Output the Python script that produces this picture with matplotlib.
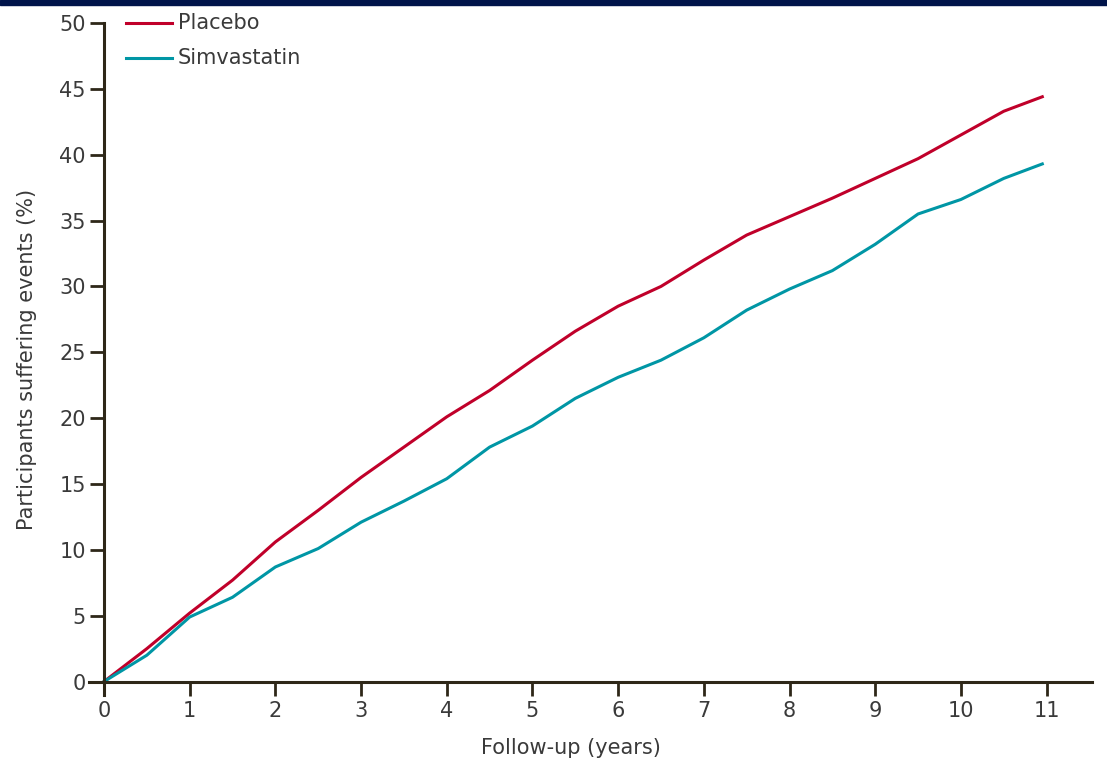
"""Cumulative events: placebo vs simvastatin."""

import matplotlib

matplotlib.use("Agg")
import matplotlib.pyplot as plt
from matplotlib.lines import Line2D
from matplotlib.patches import Rectangle

YEARS = [0, 0.5, 1, 1.5, 2, 2.5, 3, 3.5, 4, 4.5, 5, 5.5, 6, 6.5, 7, 7.5,
         8, 8.5, 9, 9.5, 10, 10.5, 10.95]
PLACEBO = [0, 2.5, 5.2, 7.7, 10.6, 13.0, 15.5, 17.8, 20.1, 22.1, 24.4, 26.6,
           28.5, 30.0, 32.0, 33.9, 35.3, 36.7, 38.2, 39.7, 41.5, 43.3, 44.4]
SIMVASTATIN = [0, 2.0, 4.9, 6.4, 8.7, 10.1, 12.1, 13.7, 15.4, 17.8, 19.4, 21.5,
               23.1, 24.4, 26.1, 28.2, 29.8, 31.2, 33.2, 35.5, 36.6, 38.2, 39.3]

X_TICKS = list(range(0, 12))
Y_TICKS = list(range(0, 51, 5))

COLORS = {"Placebo": "#c0002a", "Simvastatin": "#0096a5"}
AXIS_COLOR = "#2e2718"
TEXT_COLOR = "#3a3a3a"

W, H = 1107, 761

plt.rcParams["font.family"] = ["DejaVu Sans"]

fig = plt.figure(figsize=(W / 100, H / 100), dpi=100)
fig.patches.append(Rectangle((0, 1 - 5 / H), 1, 5 / H, transform=fig.transFigure,
                             color="#00144a", zorder=0))

ax = fig.add_axes([89 / W, 1 - 695 / H, 1003 / W, 672 / H])

ax.plot(YEARS, PLACEBO, color=COLORS["Placebo"], linewidth=2.2)
ax.plot(YEARS, SIMVASTATIN, color=COLORS["Simvastatin"], linewidth=2.2)

ax.set_xlim(-0.175, 11.53)
ax.set_ylim(-1.02, 50)
ax.set_xticks(X_TICKS)
ax.set_yticks(Y_TICKS)

for side in ("top", "right"):
    ax.spines[side].set_visible(False)
ax.spines["left"].set_position(("data", 0))
ax.spines["bottom"].set_position(("data", 0))
for side in ("left", "bottom"):
    ax.spines[side].set_color(AXIS_COLOR)
    ax.spines[side].set_linewidth(2.2)

ax.tick_params(axis="both", direction="out", length=10, width=2, color=AXIS_COLOR,
               labelcolor=TEXT_COLOR, labelsize=15)
ax.tick_params(axis="x", pad=4)
ax.tick_params(axis="y", pad=3)

ax.set_xlabel("Follow-up (years)", fontsize=15, color=TEXT_COLOR, va="center")
ax.xaxis.set_label_coords((571 - 89) / 1003, -(748 - 695) / 672)
ax.set_ylabel("Participants suffering events (%)", fontsize=15, color=TEXT_COLOR,
              va="center")
ax.yaxis.set_label_coords(-(89 - 27) / 1003, 0.5)

# legend drawn by hand: short line + label, one row each
for (label, color), y_px in zip(COLORS.items(), (23, 58)):
    y = 1 - y_px / H
    fig.add_artist(Line2D([126 / W, 172 / W], [y, y], color=color, linewidth=2.2,
                          transform=fig.transFigure))
    fig.text(178 / W, y, label, fontsize=15, color=TEXT_COLOR, va="center", ha="left")

fig.savefig("out.png", dpi=100)
